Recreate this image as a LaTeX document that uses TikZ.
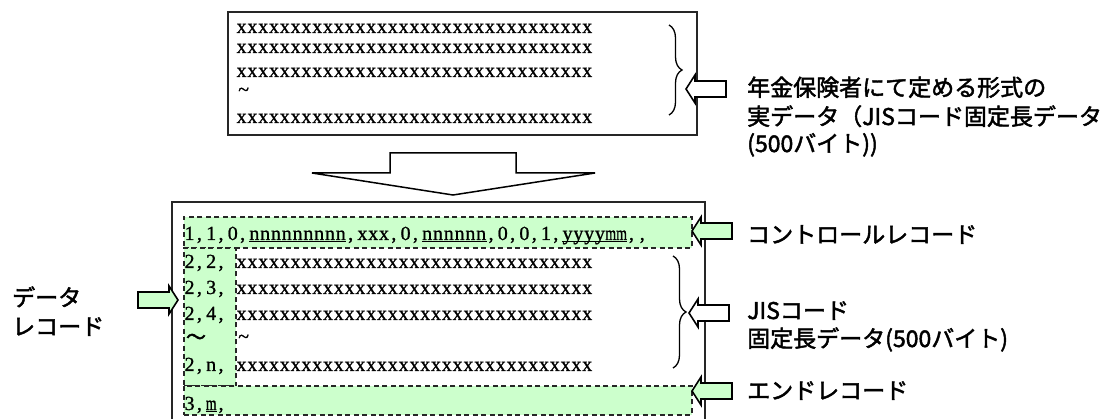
\RequirePackage{fix-cm}
\documentclass[tikz,border=0pt]{standalone}
\usepackage{fontspec}
\usetikzlibrary{decorations.pathreplacing}
\newfontfamily\jpfont[FakeBold=2]{Noto Sans CJK JP}
\newfontfamily\latfont[FakeBold=1.0]{Liberation Serif}
\definecolor{lgreen}{HTML}{CCFFCC}
\ExplSyntaxOn
\dim_new:N \l_mono_cell_dim
\dim_set:Nn \l_mono_cell_dim {10.8pt}
\box_new:N \l_mono_char_box
\NewDocumentCommand \mono { m }
 {
  \tl_map_inline:nn {#1}
   {
    \hbox_set:Nn \l_mono_char_box {##1}
    \dim_compare:nNnT { \box_wd:N \l_mono_char_box } > { \l_mono_cell_dim }
     { \box_resize_to_wd_and_ht:Nnn \l_mono_char_box { \l_mono_cell_dim } { \box_ht:N \l_mono_char_box } }
    \tl_if_eq:nnTF {##1} {,}
     { \hbox_to_wd:nn { \l_mono_cell_dim } { \kern2pt \box_use_drop:N \l_mono_char_box \hfil } }
     { \hbox_to_wd:nn { \l_mono_cell_dim } { \hfil \box_use_drop:N \l_mono_char_box \hfil } }
   }
 }
\ExplSyntaxOff
\newcommand\monoul[1]{\underline{\smash{\mono{#1}}}}
\newcommand\xrow{\mono{xxxxxxxxxxxxxxxxxxxxxxxxxxxxxxxxx}}
\tikzset{
  frame/.style={draw=black!85, line width=1.8pt, inner sep=0pt, anchor=north west},
  rec/.style={draw=black!85, fill=lgreen, dash pattern=on 5pt off 3.5pt, line width=1.6pt, inner sep=0pt, anchor=north west},
  lat/.style={inner sep=0pt, anchor=base west, font=\latfont\fontsize{20}{20}\selectfont},
  jptext/.style={inner sep=0pt, anchor=base west, font=\jpfont\fontsize{23}{23}\selectfont},
  harrow/.style={draw=black, line width=1.6pt, fill=white, line join=miter},
  garrow/.style={draw=black, line width=1.6pt, fill=lgreen, line join=miter},
  bigarr/.style={draw=black, line width=1.5pt, fill=white},
  brc/.style={draw=black, line width=1.3pt, decorate, decoration={brace, amplitude=13pt}},
  larr/.pic={\path[pic actions] (0,0) -- (9,-14) -- (9,-8) -- (40,-8) -- (40,8) -- (9,8) -- (9,14) -- cycle;}
}
\begin{document}
\begin{tikzpicture}[x=1pt,y=-1pt]
\path[use as bounding box] (0,0) rectangle (1119,419);
\clip (0,0) rectangle (1119,419);

% top box
\node[frame, minimum width=469pt, minimum height=123pt] (topbox) at (227,11) {};
\node[lat] (t1) at (236,33) {\xrow};
\node[lat] (t2) at (236,53) {\xrow};
\node[lat] (t3) at (236,77) {\xrow};
\node[lat] (t4) at (238,96) {\textasciitilde};
\node[lat] (t5) at (236,123) {\xrow};
\draw[brc] (669,25) -- (669,115);
\pic[harrow] at (686,89) {larr};
\node[jptext] (lab1) at (747,96) {年金保険者にて定める形式の};
\node[jptext] (lab2) at (747,125) {実データ（JISコード固定長データ};
\node[jptext] (lab3) at (747,152) {(500バイト))};

% big arrow
\draw[bigarr] (390,153) -- (516,153) -- (516,173) -- (595,173) -- (453,195) -- (312,173) -- (390,173) -- cycle;

% bottom box
\node[frame, minimum width=533pt, minimum height=235pt] (botbox) at (171,201) {};
\node[rec, minimum width=508pt, minimum height=31pt] (ctrl) at (183,216) {};
\node[rec, minimum width=52pt, minimum height=138pt] (datacol) at (183,247) {};
\node[rec, minimum width=508pt, minimum height=29pt] (endrec) at (183,385) {};

\node[lat] (c0) at (184,240) {\mono{1,1,0,}\monoul{nnnnnnnnn}\mono{,xxx,0,}\monoul{nnnnnn}\mono{,0,0,1,}\monoul{yyyymm}\mono{,,}};
\node[lat] (d1) at (184,268) {\mono{2,2,}};
\node[lat] (d2) at (184,294) {\mono{2,3,}};
\node[lat] (d3) at (184,320) {\mono{2,4,}};
\node[inner sep=0pt, font=\jpfont\fontsize{20}{20}\selectfont] (d4) at (196,339) {〜};
\node[lat] (d5) at (184,371) {\mono{2,n,}};
\node[lat] (x1) at (236,268) {\xrow};
\node[lat] (x2) at (236,294) {\xrow};
\node[lat] (x3) at (236,320) {\xrow};
\node[lat] (x4) at (238,343) {\textasciitilde};
\node[lat] (x5) at (236,371) {\xrow};
\node[lat] (e0) at (184,410) {\mono{3,}\monoul{m}\mono{,}};

\draw[brc] (673,256) -- (673,368);

\pic[garrow] at (692,231) {larr};
\pic[harrow] at (689,313) {larr};
\pic[garrow] at (692,391) {larr};
\pic[garrow, xscale=-1] at (178,300) {larr};

\node[jptext] (lc) at (747,243) {コントロールレコード};
\node[jptext] (lj1) at (747,319) {JISコード};
\node[jptext] (lj2) at (747,347) {固定長データ(500バイト)};
\node[jptext] (le) at (747,399) {エンドレコード};
\node[jptext] (ld1) at (12,306) {データ};
\node[jptext] (ld2) at (12,335) {レコード};
\end{tikzpicture}
\end{document}
